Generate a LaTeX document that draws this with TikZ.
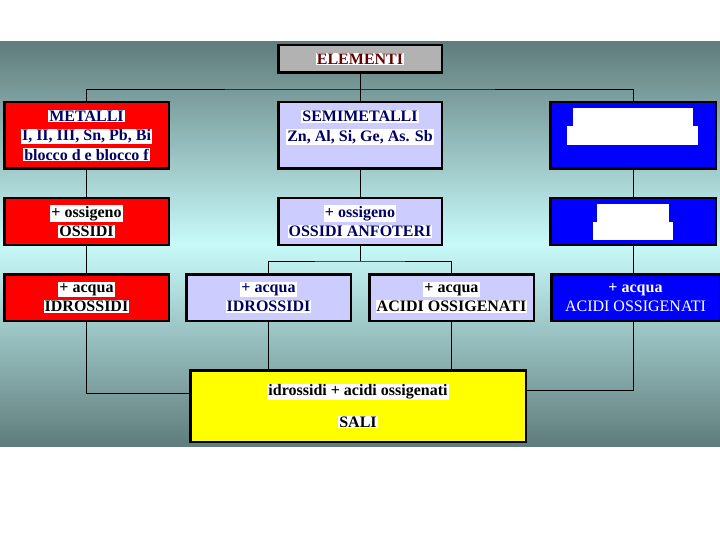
\documentclass[tikz,border=0pt]{standalone}
\usepackage{fontspec}
\setmainfont{Liberation Serif}
\usetikzlibrary{calc}

\definecolor{bgdark}{RGB}{96,124,124}
\definecolor{bglight}{RGB}{200,250,250}
\definecolor{grigio}{RGB}{178,178,178}
\definecolor{lilla}{RGB}{204,204,255}
\definecolor{blu}{RGB}{0,0,255}
\definecolor{giallo}{RGB}{255,255,0}
\definecolor{rosso}{RGB}{255,0,0}
\definecolor{navy}{RGB}{0,0,102}
\definecolor{bordeaux}{RGB}{102,0,0}

\setlength{\fboxsep}{1pt}
\newcommand{\wl}[1]{\colorbox{white}{#1}}

\tikzset{
  box/.style={draw=black, line width=2.5pt, align=center, inner sep=0pt,
    font=\fontsize{16}{19.5}\selectfont\bfseries},
  redbox/.style={box, fill=rosso, text=black},
  lilabox/.style={box, fill=lilla, text=navy},
  bluebox/.style={box, fill=blu, text=white},
  link/.style={draw=black, line width=0.8pt}
}

\begin{document}
\begin{tikzpicture}[x=1pt,y=1pt]

\useasboundingbox (0,0) rectangle (720,-540);

% Background
\shade[top color=bgdark, bottom color=bglight] (0,-42) rectangle (720,-244);
\shade[top color=bglight, bottom color=bgdark] (0,-244) rectangle (720,-446);

% --- Top ---
\node[box, fill=grigio, text=bordeaux, minimum width=163.5, minimum height=27.5]
  (elementi) at (360,-59) {\wl{ELEMENTI}};

% --- First row ---
\node[redbox, text=navy, minimum width=164.5, minimum height=66.5]
  (metalli) at (86.5,-135.5) {\wl{METALLI}\\ \wl{I, II, III, Sn, Pb, Bi}\\ \wl{blocco d e blocco f}};
\node[lilabox, minimum width=163.5, minimum height=66.5]
  (semimetalli) at (360,-135.5) {\wl{SEMIMETALLI}\\ \wl{Zn, Al, Si, Ge, As. Sb}\\ ~};
\node[bluebox, minimum width=165.5, minimum height=66.5]
  (nonmetalli) at (633,-135.5) {};
\fill[white] (573,-108) rectangle (693,-126);
\fill[white] (567,-126) rectangle (698,-145);

% --- Second row ---
\node[redbox, minimum width=164.5, minimum height=46.5]
  (ossidi) at (86.5,-221.5) {\wl{+ ossigeno}\\ \wl{OSSIDI}};
\node[lilabox, minimum width=163.5, minimum height=46.5]
  (anfoteri) at (360,-221.5) {\wl{+ ossigeno}\\ \wl{OSSIDI ANFOTERI}};
\node[bluebox, minimum width=165.5, minimum height=46.5]
  (anidridi) at (633,-221.5) {};
\fill[white] (597,-204) rectangle (669,-222);
\fill[white] (593,-222) rectangle (673,-240);

% --- Third row ---
\node[redbox, minimum width=164.5, minimum height=46.5]
  (idrossidi) at (86.5,-297.5) {\wl{+ acqua}\\ \wl{IDROSSIDI}};
\node[lilabox, minimum width=164.5, minimum height=46.5]
  (idrossidisemi) at (268.5,-297.5) {\wl{+ acqua}\\ \wl{IDROSSIDI}};
\node[lilabox, text=black, minimum width=164.5, minimum height=46.5]
  (acidisemi) at (451.5,-297.5) {\wl{+ acqua}\\ \wl{ACIDI OSSIGENATI}};
\node[bluebox, minimum width=168.5, minimum height=46.5]
  (acidi) at (635.5,-297.5) {+ acqua\\ \mdseries ACIDI OSSIGENATI};

% --- Bottom ---
\node[box, fill=giallo, text=black, minimum width=335.5, minimum height=71.5]
  (sali) at (358,-406) {\wl{idrossidi + acidi ossigenati}\\[12pt] \wl{SALI}};

% --- Connectors ---
\draw[link] (elementi.south) -- ++(0,-15) coordinate (ramo);
\draw[link] (metalli.north) |- (ramo) -| (nonmetalli.north);
\draw[link] (ramo) -- (semimetalli.north);

\draw[link] (metalli.south) -- (ossidi.north);
\draw[link] (ossidi.south) -- (idrossidi.north);
\draw[link] (semimetalli.south) -- (anfoteri.north);
\draw[link] (nonmetalli.south) -- (anidridi.north);
\draw[link] (anidridi.south) -- (anidridi.south |- acidi.north);

\draw[link] (anfoteri.south) -- ++(0,-15) coordinate (bivio);
\draw[link] (idrossidisemi.north) |- (bivio) -| (acidisemi.north);

\draw[link] (idrossidi.south) |- ([yshift=13]sali.west);
\draw[link] (idrossidisemi.south) -- (idrossidisemi.south |- sali.north);
\draw[link] (acidisemi.south) -- (acidisemi.south |- sali.north);
\draw[link] (anidridi.south |- acidi.south) |- ([yshift=16]sali.east);

\end{tikzpicture}
\end{document}
